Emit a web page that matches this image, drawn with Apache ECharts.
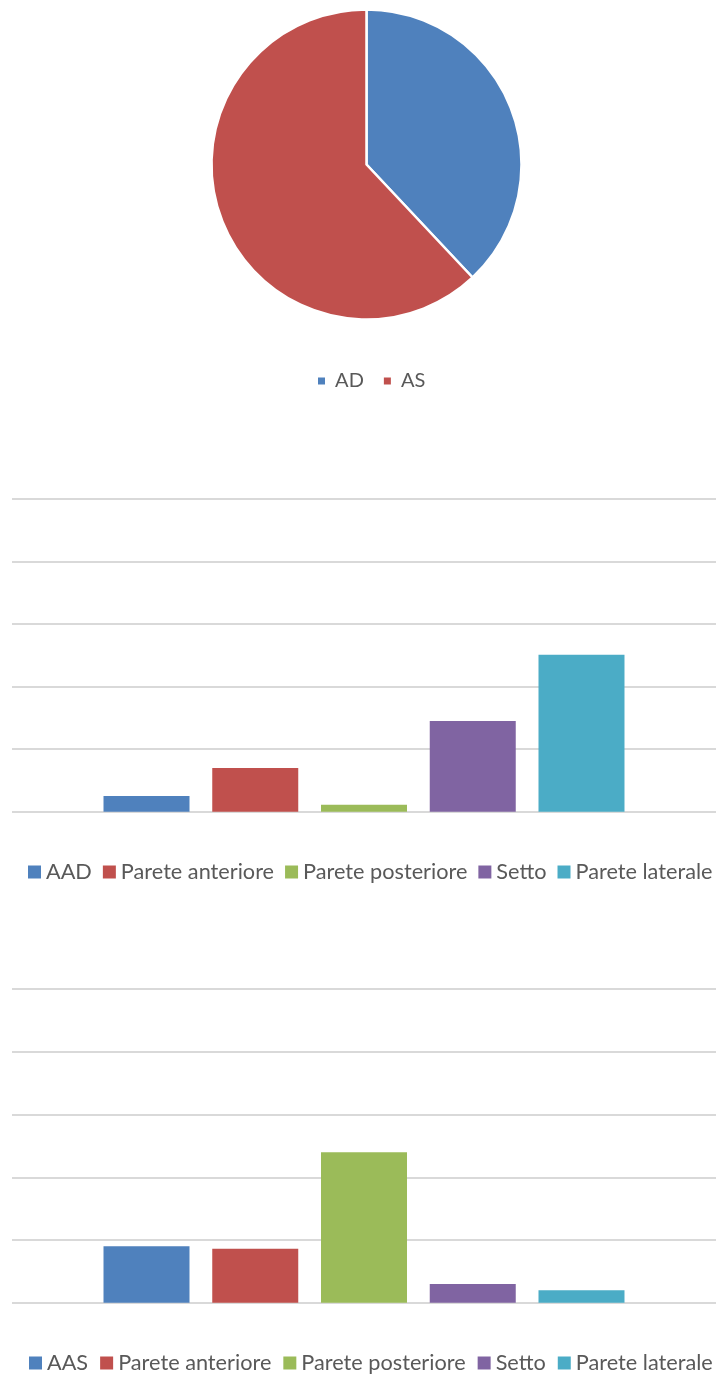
<!DOCTYPE html>
<html>
<head>
<meta charset="utf-8">
<script src="https://cdn.jsdelivr.net/npm/echarts@6/dist/echarts.min.js"></script>
<style>
html,body{margin:0;padding:0;background:#fff;}
#c{width:716px;height:1376px;}
</style>
</head>
<body>
<div id="c"></div>
<script>
// ---- data ----
const pieNames = ['AD', 'AS'];
const pieValues = [38, 62];

const seriesNames1 = ['AAD', 'Parete anteriore', 'Parete posteriore', 'Setto', 'Parete laterale'];
const values1 = [2.5, 7.0, 1.1, 14.5, 25.1];

const seriesNames2 = ['AAS', 'Parete anteriore', 'Parete posteriore', 'Setto', 'Parete laterale'];
const values2 = [9.0, 8.6, 24.0, 3.0, 2.0];

const colors = ['#4f81bd', '#c0504d', '#9bbb59', '#8064a2', '#4bacc6'];
const yMin = 0, yMax = 50, yInterval = 10;

const FONT = 'Lato';
const TXT = '#595959';

const chart = echarts.init(document.getElementById('c'), null, {renderer: 'canvas'});

function barSeries(names, values, gridIdx) {
  return names.map((n, i) => ({
    type: 'bar',
    name: n,
    xAxisIndex: gridIdx,
    yAxisIndex: gridIdx,
    data: [values[i]],
    barWidth: 86,
    barGap: '26.45%',
    itemStyle: {color: colors[i]},
    silent: true,
    animation: false
  }));
}

const yAxisBase = (gi) => ({
  type: 'value', gridIndex: gi, min: yMin, max: yMax, interval: yInterval,
  axisLabel: {show: false}, axisLine: {show: false}, axisTick: {show: false},
  splitLine: {show: true, lineStyle: {color: '#d9d9d9', width: 2}}
});
const xAxisBase = (gi) => ({
  type: 'category', gridIndex: gi, data: [''],
  axisLabel: {show: false}, axisLine: {show: false}, axisTick: {show: false}
});

const legendText = {fontFamily: FONT, fontSize: 21.7, color: TXT};

chart.setOption({
  animation: false,
  grid: [
    {left: 12, width: 710, top: 499.2, height: 312.5},
    {left: 12, width: 710, top: 989.2, height: 313.5}
  ],
  xAxis: [xAxisBase(0), xAxisBase(1)],
  yAxis: [yAxisBase(0), yAxisBase(1)],
  legend: [
    {
      data: pieNames, left: 313, top: 366, icon: 'rect', itemWidth: 7, itemHeight: 7,
      itemGap: 20, formatter: ' {name}',
      itemStyle: {borderWidth: 0},
      textStyle: {fontFamily: FONT, fontSize: 20, color: TXT}
    },
    {
      data: seriesNames1, left: 23, top: 856, width: 900, icon: 'rect', itemWidth: 13, itemHeight: 13,
      itemGap: 11, textStyle: legendText
    },
    {
      data: seriesNames2, left: 24, top: 1347, width: 900, icon: 'rect', itemWidth: 13, itemHeight: 13,
      itemGap: 12, textStyle: legendText
    }
  ],
  series: [
    {
      type: 'pie',
      center: [366.5, 164.5],
      radius: 155,
      startAngle: 90,
      clockwise: true,
      label: {show: false},
      labelLine: {show: false},
      itemStyle: {borderColor: '#fff', borderWidth: 2.5},
      data: pieNames.map((n, i) => ({name: n, value: pieValues[i], itemStyle: {color: colors[i]}})),
      silent: true
    },
    ...barSeries(seriesNames1, values1, 0),
    ...barSeries(seriesNames2, values2, 1)
  ]
});
</script>
</body>
</html>
